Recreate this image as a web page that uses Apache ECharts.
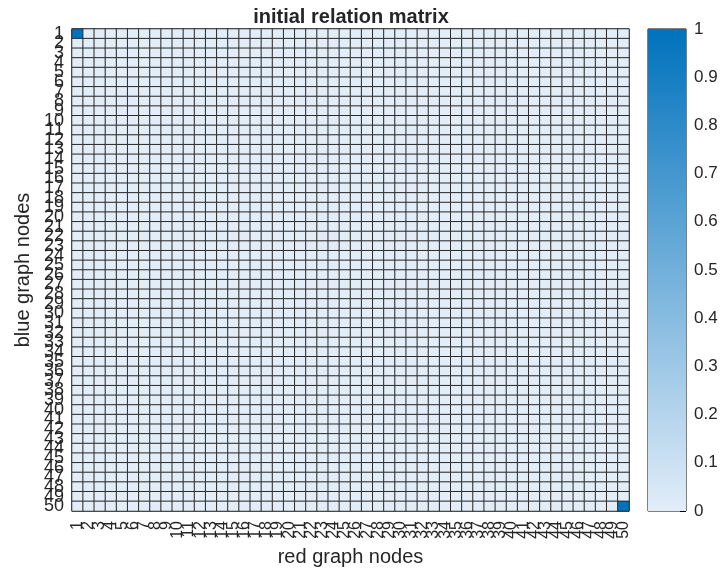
<!DOCTYPE html>
<html><head><meta charset="utf-8">
<script src="https://cdn.jsdelivr.net/npm/echarts@6/dist/echarts.min.js"></script>
<style>html,body{margin:0;padding:0;background:#fff}#c{width:723px;height:572px}</style>
</head><body><div id="c"></div>
<script>
const N = 50;
const redNodes = Array.from({length: N}, (_, i) => String(i + 1));
const blueNodes = Array.from({length: N}, (_, i) => String(i + 1));
// nonzero entries of the relation matrix: [redIndex, blueIndex, value]
const nonZero = [[0, 0, 1], [49, 49, 1]];
const baseValue = 0;
const colorbarTicks = [0, 0.1, 0.2, 0.3, 0.4, 0.5, 0.6, 0.7, 0.8, 0.9, 1];

const cells = [];
for (let i = 0; i < N; i++) for (let j = 0; j < N; j++) cells.push([i, j, baseValue]);
nonZero.forEach(([i, j, v]) => { cells[i * N + j][2] = v; });

const light = '#e2edf8', dark = '#0072bd';
const font = 'Liberation Sans, Arial, sans-serif';
const chart = echarts.init(document.getElementById('c'));
chart.setOption({
  animation: false,
  title: {text: 'initial relation matrix', left: 346, textAlign: 'center', top: 2,
    textStyle: {fontFamily: font, fontSize: 20, fontWeight: 'bold', color: '#262626'}},
  grid: [
    {left: 72, top: 29, width: 557, height: 482, show: true, borderColor: '#262626', borderWidth: 1,
      backgroundColor: 'transparent', containLabel: false, outerBoundsMode: 'none'},
    {left: 648, top: 29, width: 38, height: 482, show: true, borderColor: '#000', borderWidth: 1,
      containLabel: false, outerBoundsMode: 'none'}
  ],
  xAxis: [
    {type: 'category', gridIndex: 0, data: redNodes, name: 'red graph nodes', nameLocation: 'middle', nameGap: 36,
      nameTextStyle: {fontFamily: font, fontSize: 20, color: '#262626'},
      axisLine: {show: false}, axisTick: {show: false}, splitLine: {show: false},
      axisLabel: {interval: 0, rotate: 90, fontFamily: font, fontSize: 16, color: '#262626', margin: 10}},
    {type: 'category', gridIndex: 1, data: ['c'], show: false}
  ],
  yAxis: [
    {type: 'category', gridIndex: 0, data: blueNodes, inverse: true, name: 'blue graph nodes', nameLocation: 'middle', nameGap: 37,
      nameTextStyle: {fontFamily: font, fontSize: 20, color: '#262626'},
      axisLine: {show: false}, axisTick: {show: false}, splitLine: {show: false},
      axisLabel: {interval: 0, fontFamily: font, fontSize: 18, color: '#262626', margin: 8}},
    {type: 'value', gridIndex: 1, min: 0, max: 1, interval: 0.1, position: 'right',
      axisLine: {show: false}, splitLine: {show: false},
      axisTick: {show: true, inside: true, length: 6, lineStyle: {color: '#000'}},
      axisLabel: {fontFamily: font, fontSize: 17, color: '#262626', margin: 8,
        formatter: v => colorbarTicks.includes(+v.toFixed(1)) ? String(+v.toFixed(1)) : ''}}
  ],
  visualMap: {show: false, min: 0, max: 1, dimension: 2, seriesIndex: 0, inRange: {color: [light, dark]}},
  series: [
    {type: 'heatmap', xAxisIndex: 0, yAxisIndex: 0, data: cells,
      itemStyle: {borderColor: '#2b2b2b', borderWidth: 1}, emphasis: {disabled: true}},
    {type: 'bar', xAxisIndex: 1, yAxisIndex: 1, data: [1], barWidth: '100%',
      itemStyle: {color: new echarts.graphic.LinearGradient(0, 1, 0, 0, [{offset: 0, color: light}, {offset: 1, color: dark}])}}
  ]
});
</script></body></html>
